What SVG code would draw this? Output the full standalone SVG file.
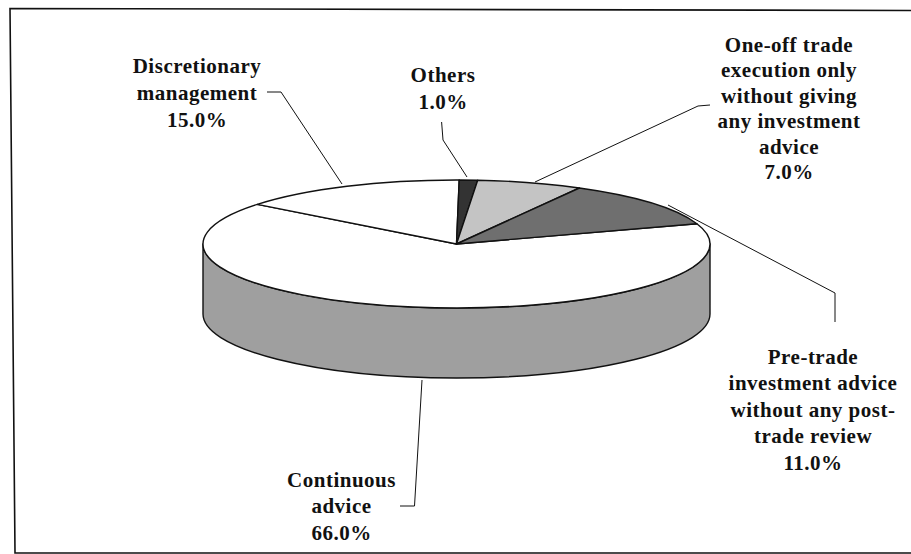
<svg xmlns="http://www.w3.org/2000/svg" width="911" height="554" viewBox="0 0 911 554">
<style>
.lbl{font-family:"Liberation Serif","Times New Roman",serif;font-weight:bold;font-size:21px;letter-spacing:0.5px;fill:#111;text-anchor:middle}
.slice{stroke:#111;stroke-width:1.4;stroke-linejoin:round}
.lead{fill:none;stroke:#111;stroke-width:1}
</style>
<rect x="0" y="0" width="911" height="554" fill="#fff"/>
<path d="M915,10.5 L10,8.5 L15,553 L915,553" fill="none" stroke="#111" stroke-width="1.6"/>
<g id="pie">
<path id="side" class="slice" fill="#9f9f9f" d="M203,244 L203,314 A253.5,64 0 0 0 710,314 L710,244 A253.5,64 0 0 1 203,244 Z"/>
<g id="continuous-slice"><path class="slice" fill="#ffffff" d="M456.5,244 L696.9,223.7 A253.5,64 0 1 1 257.3,204.4 Z"/></g>
<g id="discretionary-slice"><path class="slice" fill="#ffffff" d="M456.5,244 L257.3,204.4 A253.5,64 0 0 1 459.2,180 Z"/></g>
<g id="others-slice"><path class="slice" fill="#333333" d="M456.5,244 L459.2,180 A253.5,64 0 0 1 477.7,180.2 Z"/></g>
<g id="oneoff-slice"><path class="slice" fill="#c4c4c4" d="M456.5,244 L477.7,180.2 A253.5,64 0 0 1 579.4,188 Z"/></g>
<g id="pretrade-slice"><path class="slice" fill="#6f6f6f" d="M456.5,244 L579.4,188 A253.5,64 0 0 1 696.9,223.7 Z"/></g>
</g>
<g id="connectors">
<polyline class="lead" points="267,92 281,92 342,184"/>
<polyline class="lead" points="441.6,122 443,140 467,177"/>
<polyline class="lead" points="710,105 698,106 535,182"/>
<polyline class="lead" points="668,205 835,293 835,322"/>
<polyline class="lead" points="422,380 414.5,506 400,506"/>
</g>
<g id="label-discretionary">
<text class="lbl" x="197" y="73">Discretionary</text>
<text class="lbl" x="197" y="99.5">management</text>
<text class="lbl" x="197" y="126.5">15.0%</text>
</g>
<g id="label-others">
<text class="lbl" x="443" y="82">Others</text>
<text class="lbl" x="443" y="108.5">1.0%</text>
</g>
<g id="label-oneoff">
<text class="lbl" x="789" y="51.5">One-off trade</text>
<text class="lbl" x="789" y="77">execution only</text>
<text class="lbl" x="789" y="102.5">without giving</text>
<text class="lbl" x="789" y="128">any investment</text>
<text class="lbl" x="789" y="153.5">advice</text>
<text class="lbl" x="789" y="179">7.0%</text>
</g>
<g id="label-pretrade">
<text class="lbl" x="813" y="363.5">Pre-trade</text>
<text class="lbl" x="813" y="390">investment advice</text>
<text class="lbl" x="813" y="416.5">without any post-</text>
<text class="lbl" x="813" y="443">trade review</text>
<text class="lbl" x="813" y="469.5">11.0%</text>
</g>
<g id="label-continuous">
<text class="lbl" x="341.5" y="486.5">Continuous</text>
<text class="lbl" x="341.5" y="513">advice</text>
<text class="lbl" x="341.5" y="539.5">66.0%</text>
</g>
</svg>
